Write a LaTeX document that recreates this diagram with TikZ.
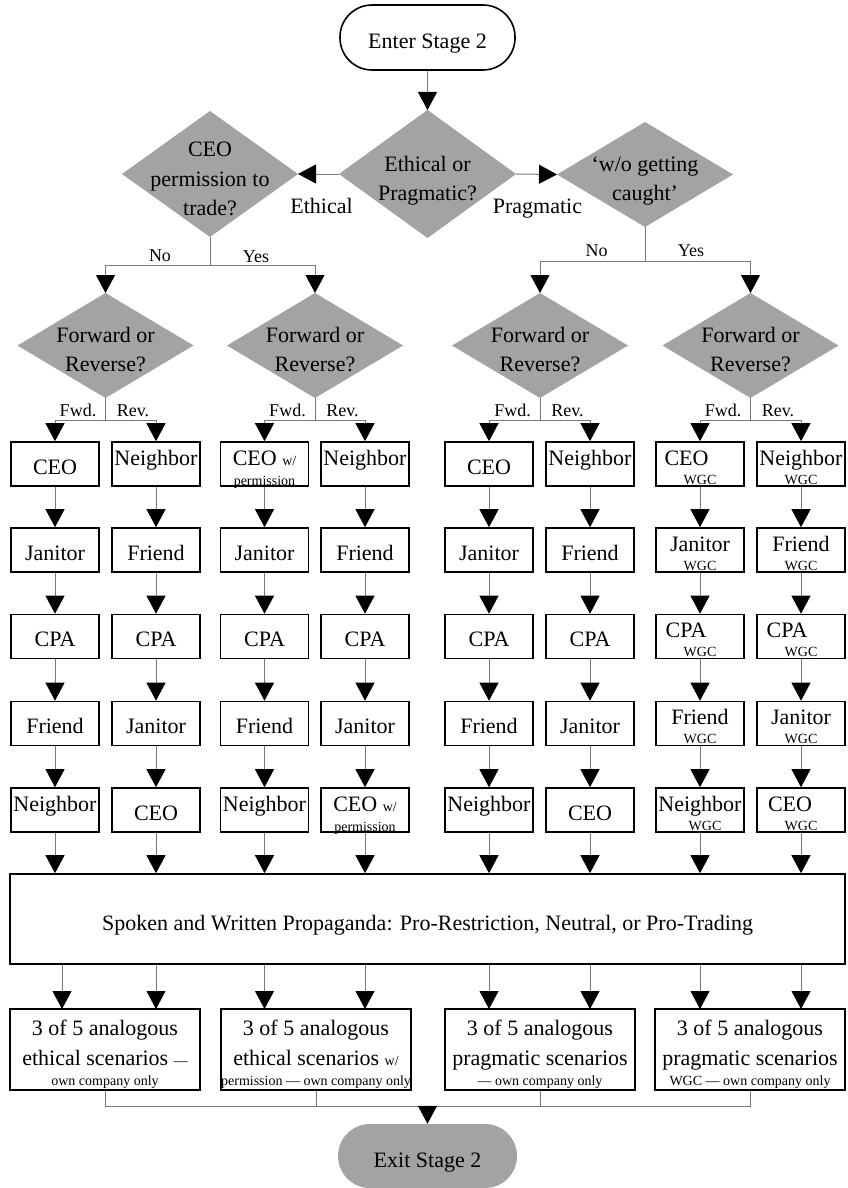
\documentclass[tikz,border=0pt]{standalone}
\usepackage{fontspec}
\setmainfont{Liberation Serif}
\usetikzlibrary{shapes.geometric,arrows.meta,calc}
\definecolor{diagray}{RGB}{163,163,163}
\definecolor{linegray}{RGB}{120,120,120}
\newcommand{\fbig}{\fontsize{22}{29}\selectfont}
\newcommand{\fmid}{\fontsize{18}{22}\selectfont}
\newcommand{\fsml}{\fontsize{14}{16}\selectfont}
\newcommand{\nbr}{\raisebox{9pt}{Neighbor}}
\begin{document}
\begin{tikzpicture}[x=1pt,y=-1pt,
  box/.style={draw=black,line width=1.6pt,minimum width=88pt,minimum height=44pt,inner sep=0pt,font=\fbig,text height=20pt,text depth=0pt},
  bigbox/.style={draw=black,line width=1.6pt,inner sep=0pt,font=\fbig,text height=22pt,text depth=0pt},
  dia/.style={shape=diamond,fill=diagray,inner sep=0pt,outer sep=0pt},
  conn/.style={draw=linegray,line width=1pt,-{Triangle[width=19pt,length=18pt,color=black]}},
  link/.style={draw=linegray,line width=1pt},
  txt/.style={font=\fbig,inner sep=0pt,anchor=base},
  mtxt/.style={font=\fmid,inner sep=0pt,anchor=base},
  stxt/.style={font=\fsml,inner sep=0pt,anchor=base}]
\useasboundingbox (0,0) rectangle (847,1188);

% ---------- top ----------
\node[bigbox,rounded corners=32pt,minimum width=175pt,minimum height=65pt] (enter) at (427.5,37.5) {Enter Stage 2};

\node[dia,minimum width=177pt,minimum height=128pt] (ed) at (427.5,174) {};
\node[txt] (edt1) at (427.5,171.7) {Ethical or};
\node[txt] (edt2) at (427.5,200.5) {Pragmatic?};

\node[dia,minimum width=176pt,minimum height=126pt] (cd) at (210,174) {};
\node[txt] (cdt1) at (210,157) {CEO};
\node[txt] (cdt2) at (210,186) {permission to};
\node[txt] (cdt3) at (210,215) {trade?};

\node[dia,minimum width=176pt,minimum height=105pt] (wd) at (645,174.5) {};
\node[txt] (wdt1) at (645,171.7) {‘w/o getting};
\node[txt] (wdt2) at (645,200.5) {caught’};

\draw[conn] (enter.south) -- (ed.north);
\draw[conn] (ed.west) -- (cd.east);
\draw[conn] (ed.east) -- (wd.west);
\node[txt] (lEth) at (321.5,213) {Ethical};
\node[txt] (lPra) at (537.5,213) {Pragmatic};

% ---------- forward / reverse diamonds ----------
\foreach \i/\x in {1/105.5,2/315,3/540,4/750.5}{
  \node[dia,minimum width=176pt,minimum height=105pt] (fd\i) at (\x,345.5) {};
  \node[txt] (fdt\i a) at (\x,342.7) {Forward or};
  \node[txt] (fdt\i b) at (\x,371.7) {Reverse?};
}

\coordinate (cj) at (210,265);
\draw[link] (cd.south) -- (cj);
\draw[conn] (cj) -| (fd1.north);
\draw[conn] (cj) -| (fd2.north);
\node[mtxt] (lNo1) at (160,261) {No};
\node[mtxt] (lYes1) at (256,262) {Yes};

\coordinate (wj) at (645,261);
\draw[link] (wd.south) -- (wj);
\draw[conn] (wj) -| (fd3.north);
\draw[conn] (wj) -| (fd4.north);
\node[mtxt] (lNo2) at (596.5,256) {No};
\node[mtxt] (lYes2) at (691,256) {Yes};

% ---------- boxes ----------
% column 1
\node[box] (b11) at (55,464) {CEO};
\node[box] (b12) at (55,550) {Janitor};
\node[box] (b13) at (55,636.5) {CPA};
\node[box] (b14) at (55,723.5) {Friend};
\node[box] (b15) at (55,810) {\nbr};
% column 2
\node[box] (b21) at (156,464) {\nbr};
\node[box] (b22) at (156,550) {Friend};
\node[box] (b23) at (156,636.5) {CPA};
\node[box] (b24) at (156,723.5) {Janitor};
\node[box] (b25) at (156,810) {CEO};
% column 3
\node[box] (b31) at (264.5,464) {};
\node[txt] (b31a) at (264.5,465) {CEO {\fsml w/}};
\node[stxt] (b31b) at (264.5,485) {permission};
\node[box] (b32) at (264.5,550) {Janitor};
\node[box] (b33) at (264.5,636.5) {CPA};
\node[box] (b34) at (264.5,723.5) {Friend};
\node[box] (b35) at (264.5,810) {\nbr};
% column 4
\node[box] (b41) at (365,464) {\nbr};
\node[box] (b42) at (365,550) {Friend};
\node[box] (b43) at (365,636.5) {CPA};
\node[box] (b44) at (365,723.5) {Janitor};
\node[box] (b45) at (365,810) {};
\node[txt] (b45a) at (365,811) {CEO {\fsml w/}};
\node[stxt] (b45b) at (365,831) {permission};
% column 5
\node[box] (b51) at (489,464) {CEO};
\node[box] (b52) at (489,550) {Janitor};
\node[box] (b53) at (489,636.5) {CPA};
\node[box] (b54) at (489,723.5) {Friend};
\node[box] (b55) at (489,810) {\nbr};
% column 6
\node[box] (b61) at (590,464) {\nbr};
\node[box] (b62) at (590,550) {Friend};
\node[box] (b63) at (590,636.5) {CPA};
\node[box] (b64) at (590,723.5) {Janitor};
\node[box] (b65) at (590,810) {CEO};
% column 7 (WGC)
\node[box] (b71) at (700,464) {};
\node[txt] (b71a) at (686.5,465) {CEO};
\node[stxt] (b71b) at (700,484) {WGC};
\node[box] (b72) at (700,550) {};
\node[txt] (b72a) at (700,551) {Janitor};
\node[stxt] (b72b) at (700,570) {WGC};
\node[box] (b73) at (700,636.5) {};
\node[txt] (b73a) at (686,637.5) {CPA};
\node[stxt] (b73b) at (700,656.5) {WGC};
\node[box] (b74) at (700,723.5) {};
\node[txt] (b74a) at (700,724.5) {Friend};
\node[stxt] (b74b) at (700,743.5) {WGC};
\node[box] (b75) at (700,810) {};
\node[txt] (b75a) at (700,811) {Neighbor};
\node[stxt] (b75b) at (705,830) {WGC};
% column 8 (WGC)
\node[box] (b81) at (801,464) {};
\node[txt] (b81a) at (801,465) {Neighbor};
\node[stxt] (b81b) at (801,484) {WGC};
\node[box] (b82) at (801,550) {};
\node[txt] (b82a) at (801,551) {Friend};
\node[stxt] (b82b) at (801,570) {WGC};
\node[box] (b83) at (801,636.5) {};
\node[txt] (b83a) at (787,637.5) {CPA};
\node[stxt] (b83b) at (801,656.5) {WGC};
\node[box] (b84) at (801,723.5) {};
\node[txt] (b84a) at (801,724.5) {Janitor};
\node[stxt] (b84b) at (801,743.5) {WGC};
\node[box] (b85) at (801,810) {};
\node[txt] (b85a) at (790,811) {CEO};
\node[stxt] (b85b) at (801,830) {WGC};

% Fwd / Rev branches
\foreach \i/\x/\a/\b in {1/105.5/1/2,2/315/3/4,3/540/5/6,4/750.5/7/8}{
  \coordinate (fj\i) at (\x,420);
  \draw[link] (fd\i.south) -- (fj\i);
  \draw[conn] (fj\i) -| (b\a1.north);
  \draw[conn] (fj\i) -| (b\b1.north);
  \node[mtxt] (fw\i) at (\x-27.5,416.5) {Fwd.};
  \node[mtxt] (rv\i) at (\x+27.5,416.5) {Rev.};
}

% vertical chains
\foreach \c in {1,...,8}{
  \foreach \r/\s in {1/2,2/3,3/4,4/5}{
    \draw[conn] (b\c\r.south) -- (b\c\s.north);
  }
}

% ---------- propaganda ----------
\node[bigbox,minimum width=835pt,minimum height=90pt] (prop) at (427.5,919)
  {Spoken and Written Propaganda: Pro-Restriction, Neutral, or Pro-Trading};
\foreach \c in {1,...,8}{
  \draw[conn] (b\c5.south) -- (b\c5.south |- prop.north);
}

% ---------- scenario boxes ----------
\node[draw=black,line width=1.6pt,minimum width=190pt,minimum height=81pt,inner sep=0pt] (s1) at (105,1049.5) {};
\node[draw=black,line width=1.6pt,minimum width=190pt,minimum height=81pt,inner sep=0pt] (s2) at (316,1049.5) {};
\node[draw=black,line width=1.6pt,minimum width=190pt,minimum height=81pt,inner sep=0pt] (s3) at (540,1049.5) {};
\node[draw=black,line width=1.6pt,minimum width=190pt,minimum height=81pt,inner sep=0pt] (s4) at (750,1049.5) {};

\node[txt] (s1a) at (105,1035.5) {3 of 5 analogous};
\node[txt] (s1b) at (105,1065) {ethical scenarios {\fsml —}};
\node[stxt] (s1c) at (105,1085.5) {own company only};

\node[txt] (s2a) at (316,1035.5) {3 of 5 analogous};
\node[txt] (s2b) at (316,1065) {ethical scenarios {\fsml w/}};
\node[stxt] (s2c) at (316,1085.5) {permission — own company only};

\node[txt] (s3a) at (540,1035.5) {3 of 5 analogous};
\node[txt] (s3b) at (540,1065) {pragmatic scenarios};
\node[stxt] (s3c) at (540,1085.5) {— own company only};

\node[txt] (s4a) at (750,1035.5) {3 of 5 analogous};
\node[txt] (s4b) at (750,1065) {pragmatic scenarios};
\node[stxt] (s4c) at (750,1085.5) {WGC — own company only};

\coordinate (q1) at (62,1009);
\coordinate (q2) at (156,1009);
\coordinate (q3) at (264.5,1009);
\coordinate (q4) at (365,1009);
\coordinate (q5) at (489,1009);
\coordinate (q6) at (590,1009);
\coordinate (q7) at (700,1009);
\coordinate (q8) at (801,1009);
\foreach \k in {1,...,8}{
  \draw[conn] (q\k |- prop.south) -- (q\k);
}

% ---------- exit ----------
\node[fill=diagray,rounded corners=32pt,minimum width=179pt,minimum height=64pt,inner sep=0pt,font=\fbig,text height=22pt,text depth=0pt] (exit) at (427.5,1156) {Exit Stage 2};
\coordinate (jn) at (427.5,1106);
\draw[link] (s1.south) |- (jn);
\draw[link] (s4.south) |- (jn);
\draw[link] (s2.south) -- (s2.south |- jn);
\draw[link] (s3.south) -- (s3.south |- jn);
\draw[conn] (jn) -- (exit.north);
\end{tikzpicture}
\end{document}
